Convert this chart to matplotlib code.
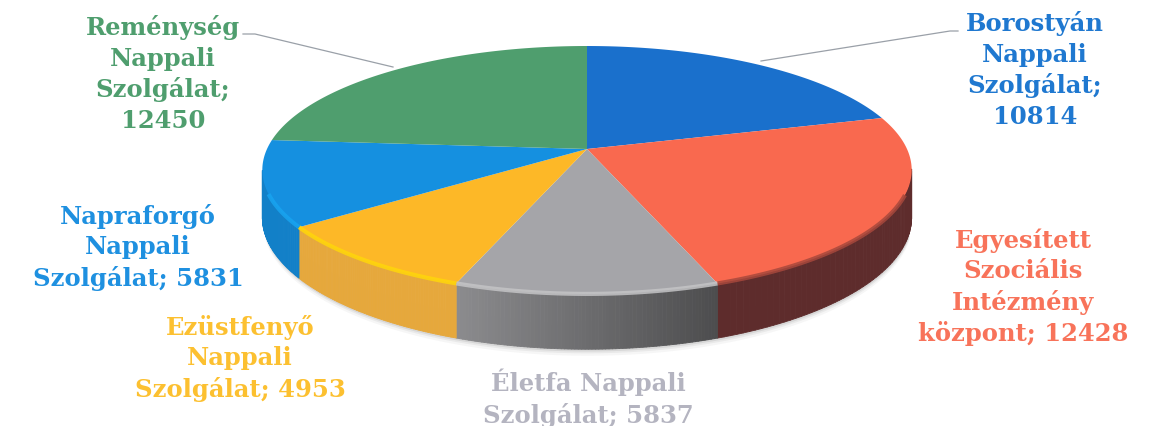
import matplotlib
matplotlib.use('Agg')
import matplotlib.pyplot as plt
from matplotlib.collections import PolyCollection, LineCollection
import numpy as np

values = [10814, 12428, 5837, 4953, 5831, 12450]
names = ['Borostyán\nNappali\nSzolgálat;\n', 'Egyesített\nSzociális\nIntézmény\nközpont; ',
         'Életfa Nappali\nSzolgálat; ', 'Ezüstfenyő\nNappali\nSzolgálat; ',
         'Napraforgó\nNappali\nSzolgálat; ', 'Reménység\nNappali\nSzolgálat;\n']
top_colors = ['#1a70cc', '#f9694f', '#a5a5a9', '#fdb827', '#1590e0', '#4f9e6e']
wall_colors = ['#124f90', '#5e2c2c', '#6c6c6e', '#e6a83c', '#1280c8', '#3a7a55']
rim_colors = ['#1a70cc', '#a8483c', '#c4c4c6', '#ffd60a', '#18a4f0', '#4f9e6e']
text_colors = ['#1f78d0', '#f8735a', '#b4b4c0', '#fcc030', '#1e90e0', '#4f9e6e']
wall_falloff = [0, 0, 0.85, 0, 0, 0]
label_pos = [(1035, 70), (1023, 287.5), (588, 398), (240, 358.5), (138, 247.5), (163, 74)]

# tilted disc, front edge is nearer so it looks larger
CX, CY = 587, 150
RX, RY = 320, 120.4
PERSP = 0.169
DEPTH = 46


def project(angle, drop=0.0):
    u, v = np.sin(angle), np.cos(angle)
    w = 1 + PERSP * v
    return CX + RX * u / w, CY - RY * v / w + drop / w


fig = plt.figure(figsize=(11.58, 4.27), dpi=100)
ax = fig.add_axes([0, 0, 1, 1])
ax.set_xlim(0, 1158)
ax.set_ylim(427, 0)
ax.axis('off')

edges = np.cumsum([0] + values) / sum(values) * 2 * np.pi

# soft shadow under the front wall
for grow, alpha in [(5, 0.05), (3, 0.08), (1.5, 0.12)]:
    t = np.linspace(np.pi / 2 + 0.3, 3 * np.pi / 2 - 0.3, 200)
    x, y = project(t, DEPTH + grow)
    ax.fill_between(x, y - 30, y, color='#555555', alpha=alpha, lw=0, zorder=1)

# side wall, only the part that faces the viewer
for i in range(len(values)):
    t = np.linspace(edges[i], edges[i + 1], 80)
    quads = []
    shades = []
    base = np.array(matplotlib.colors.to_rgb(wall_colors[i]))
    for a, b in zip(t[:-1], t[1:]):
        if np.cos((a + b) / 2) > -PERSP:
            continue
        xa, ya = project(a)
        xb, yb = project(b)
        xc, yc = project(b, DEPTH)
        xd, yd = project(a, DEPTH)
        quads.append([(xa, ya), (xb, yb), (xc, yc), (xd, yd)])
        shades.append(np.clip(base * (1.0 - wall_falloff[i] * np.sin((a + b) / 2)), 0, 1))
    if quads:
        ax.add_collection(PolyCollection(quads, facecolors=shades, edgecolors=shades, linewidths=0.6, zorder=2))

# top face
for i in range(len(values)):
    t = np.linspace(edges[i], edges[i + 1], 120)
    x, y = project(t)
    ax.fill(np.r_[CX, x], np.r_[CY, y], color=top_colors[i], lw=0, zorder=3)

# lit rim on the front edge
for i in range(len(values)):
    t = np.linspace(edges[i], edges[i + 1], 120)
    t = t[np.cos(t) < -0.35]
    if len(t) < 2:
        continue
    x, y = project(t)
    pts = np.column_stack([x, y])
    ax.add_collection(LineCollection([pts], colors=rim_colors[i], linewidths=3, alpha=0.85,
                                     capstyle='butt', zorder=4))

# leader lines
ax.plot([243, 255, 393], [35, 35, 68], color='#9aa0a8', lw=0.9, zorder=2)
ax.plot([761, 950, 958], [62, 32, 32], color='#9aa0a8', lw=0.9, zorder=2)

for i in range(len(values)):
    ax.text(label_pos[i][0], label_pos[i][1], names[i] + str(values[i]), color=text_colors[i],
            family='DejaVu Serif', fontweight='bold', fontsize=17.5, ha='center', va='center',
            multialignment='center', linespacing=1.33, zorder=5)

fig.savefig('out.png', dpi=100, facecolor='white')
